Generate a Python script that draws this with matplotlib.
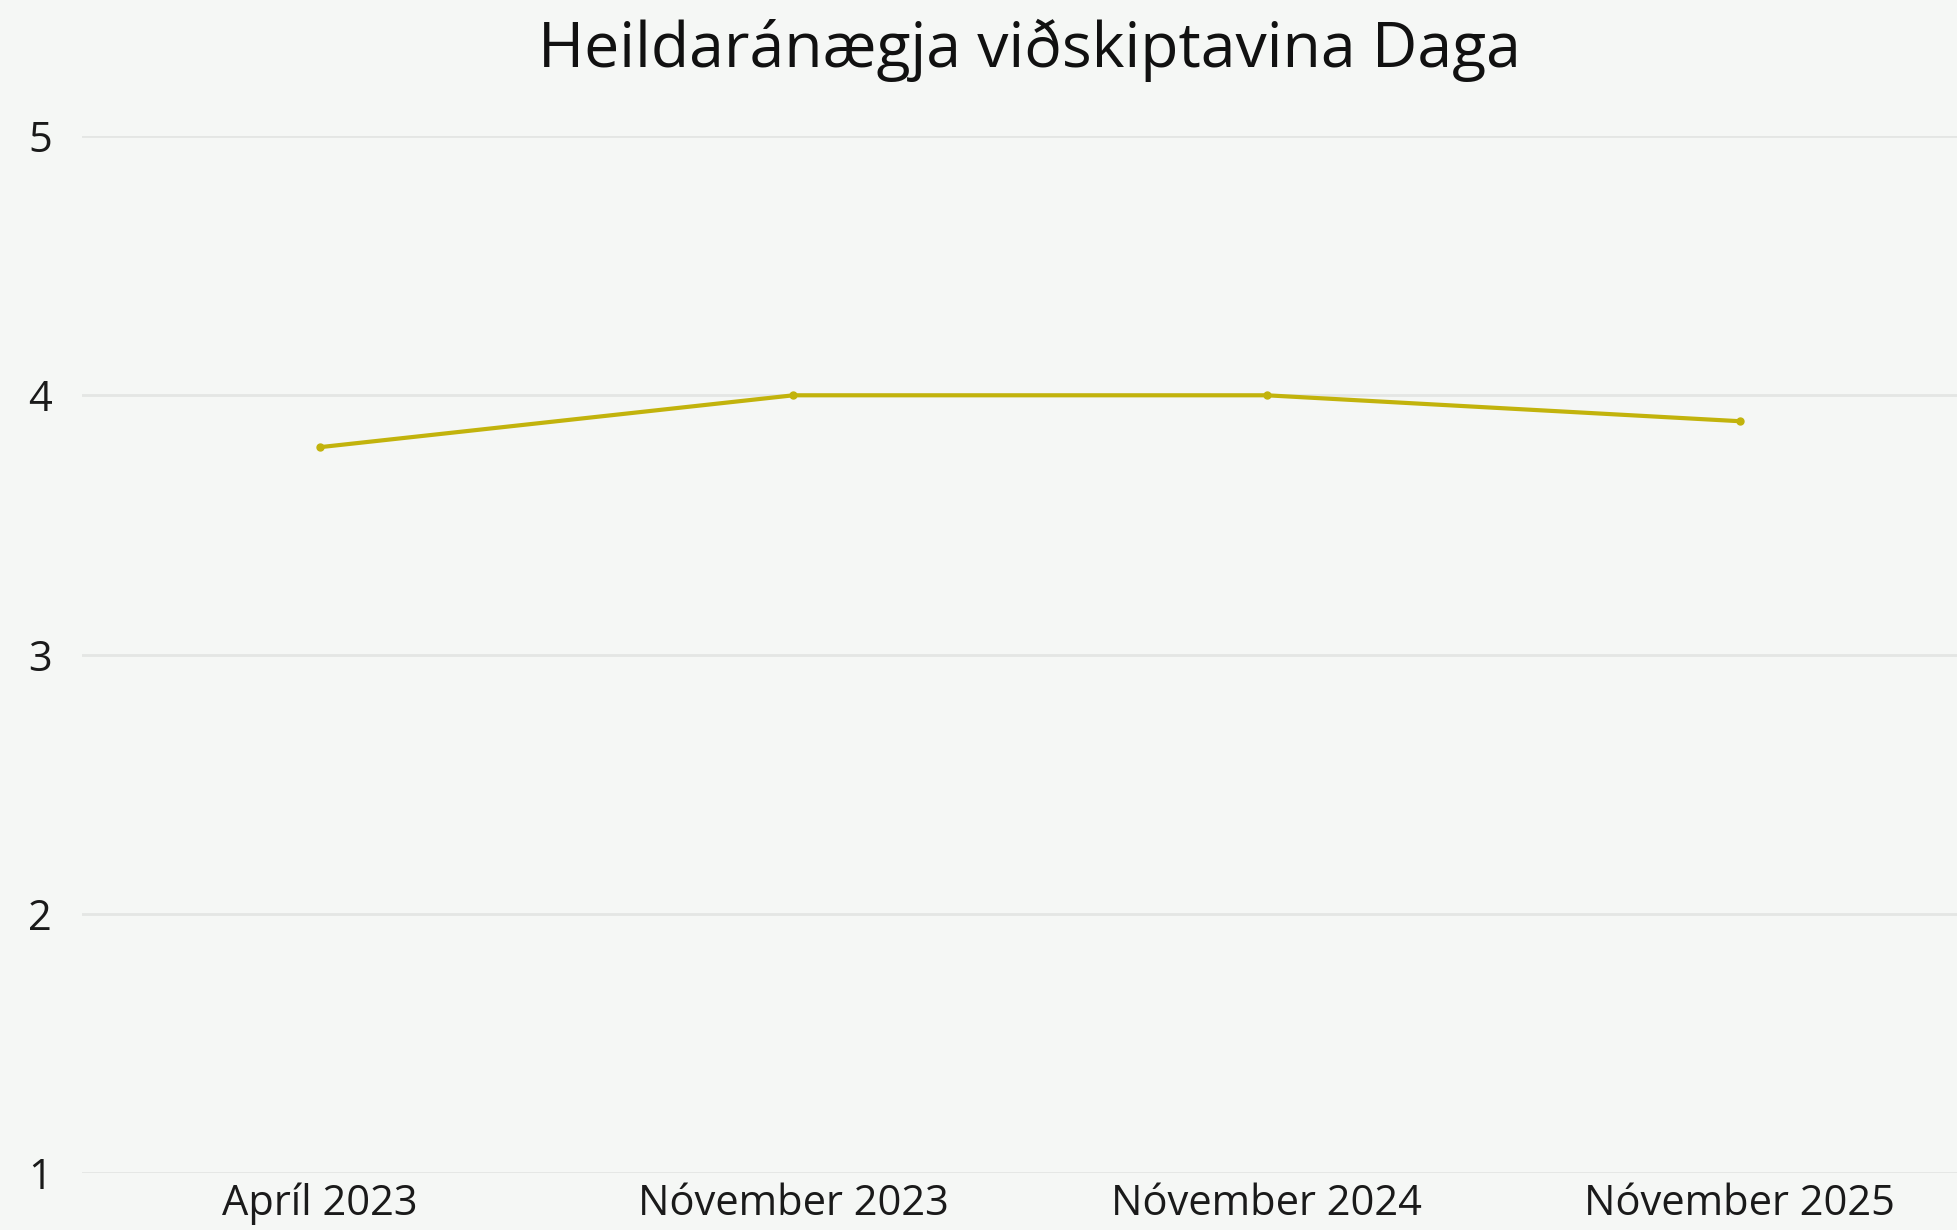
import matplotlib
matplotlib.use('Agg')
from matplotlib import pyplot as plt

# data
periods = ['Apríl 2023', 'Nóvember 2023', 'Nóvember 2024', 'Nóvember 2025']
satisfaction = [3.8, 4.0, 4.0, 3.9]
y_ticks = [1, 2, 3, 4, 5]

bg = '#f5f7f5'
line_color = '#c2b30c'
grid_color = '#e4e6e4'

plt.rcParams['font.family'] = ['Open Sans', 'DejaVu Sans']

fig = plt.figure(figsize=(19.57, 12.3), dpi=100, facecolor=bg)
ax = fig.add_axes([0.042, 0.0463, 0.958, 0.8431])
ax.set_facecolor(bg)

x = list(range(len(periods)))
ax.plot(x, satisfaction, color=line_color, linewidth=3, marker='o',
        markersize=5, clip_on=False)

ax.set_xlim(-0.503, 3.459)
ax.set_ylim(1, 5)
ax.set_xticks(x)
ax.set_xticklabels(periods)
ax.set_yticks(y_ticks)
ax.grid(axis='y', color=grid_color, linewidth=2)
ax.set_axisbelow(True)
for s in ax.spines.values():
    s.set_visible(False)
ax.tick_params(axis='both', length=0, labelsize=30, colors='#1a1a1a')
ax.tick_params(axis='y', pad=22)
ax.tick_params(axis='x', pad=7)

fig.text(0.526, 0.959, 'Heildaránægja viðskiptavina Daga', ha='center',
         va='center', fontsize=45, color='#111111')

fig.savefig('out.png', dpi=100, facecolor=bg)
